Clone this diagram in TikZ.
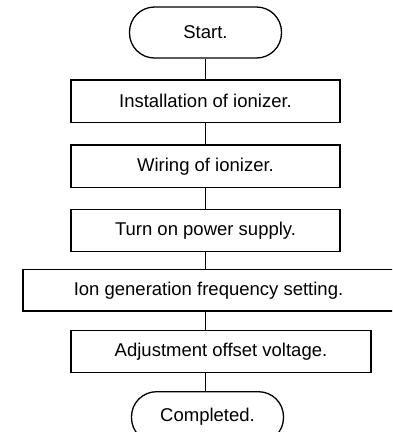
\documentclass[tikz,border=0pt]{standalone}
\usepackage{fontspec}
\setmainfont{Liberation Sans}
\usepackage{tikz}

\tikzset{
  etapa/.style={draw, line width=1.3pt, inner sep=0pt, minimum height=42.5pt,
    font=\fontsize{18.5}{22}\selectfont},
  terminal/.style={etapa, rounded corners=25pt, minimum width=152pt, minimum height=51pt},
  passo/.style={etapa, minimum width=269pt},
  ligacao/.style={line width=1.3pt}
}

\begin{document}
\begin{tikzpicture}[x=1pt,y=-1pt]
\clip (0,0) rectangle (392,432);
% Etapas
\node[terminal] (start) at (205.5,32.5) {Start.};
\node[passo] (inst) at (205.5,101.3) {Installation of ionizer.};
\node[passo] (wiring) at (205.5,166.3) {Wiring of ionizer.};
\node[passo] (power) at (205.5,230.5) {Turn on power supply.};
\node[etapa, minimum width=371pt, minimum height=41.5pt] (ion) at (208.5,290.3) {Ion generation frequency setting.};
\node[etapa, minimum width=300pt, minimum height=42pt] (offset) at (221,351.7) {Adjustment offset voltage.};
\node[terminal] (done) at (207.5,417.2) {Completed.};
% Ligacoes
\draw[ligacao] (start) -- (inst);
\draw[ligacao] (inst) -- (wiring);
\draw[ligacao] (wiring) -- (power);
\draw[ligacao] (power.south) -- (power.south |- ion.north);
\draw[ligacao] (ion.south -| power.south) -- (offset.north -| power.south);
\draw[ligacao] (offset.south -| power.south) -- (done.north -| power.south);
\end{tikzpicture}
\end{document}
